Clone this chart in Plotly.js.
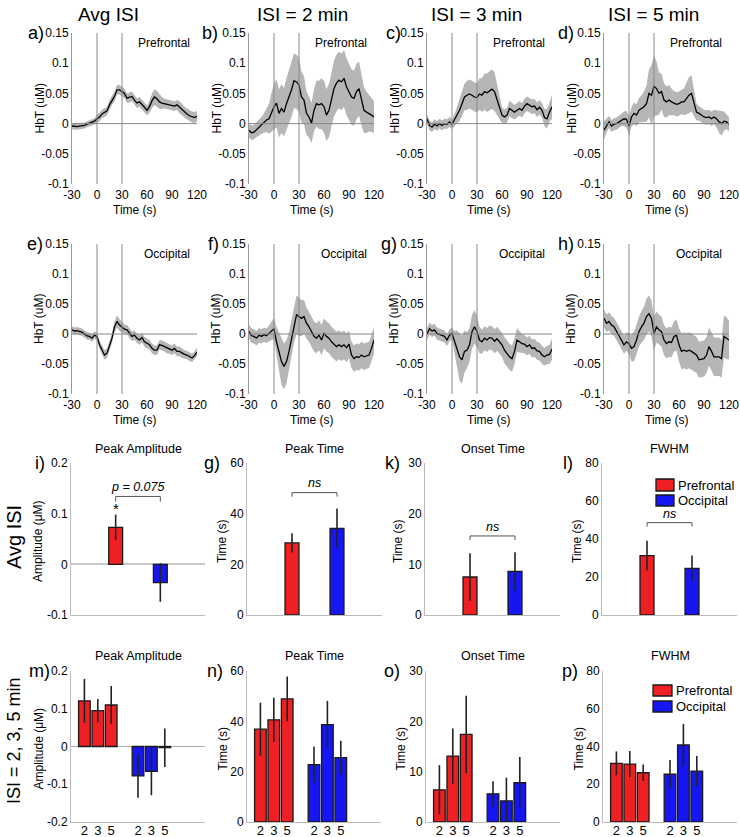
<!DOCTYPE html>
<html><head><meta charset="utf-8">
<script src="https://cdn.plot.ly/plotly-3.0.1.min.js"></script>
<style>html,body{margin:0;padding:0;background:#fff;}#chart{width:740px;height:837px;}</style>
</head><body><div id="chart"></div>
<script>
// ---------- DATA ----------
const time = [-30,-27,-24,-21,-18,-15,-12,-9,-6,-3,0,3,6,9,12,15,18,21,24,27,30,33,36,39,42,45,48,51,54,57,60,63,66,69,72,75,78,81,84,87,90,93,96,99,102,105,108,111,114,117,120];

const pfAvgMean = [-0.004,-0.005,-0.005,-0.004,-0.004,-0.003,-0.001,0.001,0.002,0.004, 0.008,0.011,0.016,0.018,0.021,0.031,0.039,0.045,0.056,0.056,0.053, 0.050,0.042,0.043,0.045,0.039,0.034,0.036,0.032,0.027,0.022, 0.028,0.038,0.044,0.041,0.036,0.034,0.033,0.032,0.031,0.030, 0.029,0.031,0.027,0.023,0.019,0.016,0.013,0.011,0.010,0.012];
const pfAvgSem = [0.005,0.005,0.005,0.005,0.005,0.005,0.005,0.005,0.005,0.005, 0.007,0.007,0.007,0.007,0.007,0.008,0.008,0.008,0.008,0.008,0.008, 0.008,0.008,0.008,0.008,0.008,0.008,0.008,0.008,0.008,0.008, 0.010,0.012,0.013,0.013,0.012,0.010,0.008,0.008,0.008,0.008, 0.008,0.008,0.010,0.010,0.009,0.009,0.009,0.009,0.009,0.009];

const pf2Mean = [-0.011,-0.015,-0.014,-0.010,-0.007,-0.003,0.001,0.006,0.008,0.019, 0.028,0.034,0.017,0.025,0.019,0.033,0.044,0.056,0.071,0.069,0.064, 0.044,0.039,0.017,0.011,0.001,0.022,0.033,0.031,0.033,0.028, 0.014,0.022,0.039,0.058,0.067,0.072,0.069,0.075,0.061,0.053, 0.044,0.042,0.053,0.058,0.039,0.022,0.019,0.017,0.014,0.011];
const pf2Sem = [0.012,0.012,0.012,0.012,0.013,0.014,0.016,0.020,0.025,0.032, 0.038,0.040,0.040,0.040,0.040,0.042,0.044,0.045,0.045,0.045,0.045, 0.042,0.040,0.036,0.034,0.033,0.035,0.038,0.040,0.042,0.043, 0.043,0.044,0.045,0.046,0.047,0.047,0.047,0.047,0.047,0.046, 0.046,0.046,0.046,0.045,0.042,0.038,0.034,0.030,0.028,0.026];

const pf3Mean = [0.008,-0.003,-0.006,-0.001,-0.004,0.000,-0.003,0.000,-0.001,0.003, -0.001,0.006,0.014,0.022,0.033,0.044,0.047,0.049,0.047,0.044,0.043, 0.049,0.047,0.053,0.051,0.054,0.057,0.053,0.039,0.025,0.014, 0.011,0.014,0.025,0.022,0.019,0.022,0.025,0.022,0.029,0.033, 0.031,0.028,0.029,0.023,0.027,0.022,0.010,0.008,0.019,0.028];
const pf3Sem = [0.008,0.008,0.008,0.008,0.008,0.008,0.008,0.008,0.008,0.008, 0.008,0.010,0.014,0.018,0.020,0.022,0.024,0.024,0.024,0.024,0.024, 0.026,0.028,0.030,0.032,0.033,0.033,0.032,0.025,0.018,0.013, 0.012,0.012,0.013,0.013,0.012,0.012,0.012,0.012,0.012,0.012, 0.012,0.012,0.012,0.012,0.012,0.012,0.014,0.016,0.016,0.020];

const pf5Mean = [-0.011,-0.003,0.003,-0.004,-0.001,0.000,0.003,0.006,0.008,0.007, -0.004,0.011,0.017,0.014,0.022,0.025,0.028,0.033,0.050,0.047,0.062, 0.058,0.050,0.053,0.039,0.036,0.039,0.036,0.034,0.032,0.033, 0.036,0.036,0.042,0.047,0.050,0.033,0.019,0.017,0.014,0.011, 0.010,0.011,0.008,0.011,0.008,0.003,0.000,0.004,0.003,-0.001];
const pf5Sem = [0.015,0.012,0.010,0.010,0.010,0.010,0.010,0.010,0.012,0.014, 0.016,0.016,0.018,0.018,0.020,0.022,0.025,0.030,0.040,0.050,0.050, 0.045,0.035,0.030,0.028,0.026,0.025,0.022,0.020,0.020,0.020, 0.020,0.022,0.026,0.030,0.030,0.020,0.014,0.012,0.012,0.012, 0.012,0.012,0.012,0.012,0.014,0.018,0.020,0.016,0.012,0.012];

const ocAvgMean = [0.007,0.005,0.0055,0.004,0.003,0.000,-0.003,-0.004,-0.007,-0.002, -0.004,-0.018,-0.027,-0.035,-0.032,-0.021,-0.007,0.012,0.021,0.015,0.011, 0.008,0.007,0.001,-0.004,-0.002,-0.007,-0.010,-0.006,-0.013,-0.016, -0.018,-0.024,-0.027,-0.027,-0.018,-0.019,-0.021,-0.024,-0.025,-0.027, -0.024,-0.029,-0.029,-0.032,-0.034,-0.035,-0.038,-0.040,-0.036,-0.030];
const ocAvgSem = [0.006,0.006,0.006,0.006,0.006,0.006,0.006,0.006,0.006,0.006, 0.006,0.007,0.008,0.008,0.008,0.008,0.008,0.009,0.010,0.010,0.009, 0.008,0.008,0.008,0.008,0.008,0.008,0.008,0.008,0.008,0.008, 0.008,0.008,0.008,0.008,0.008,0.008,0.008,0.008,0.008,0.008, 0.008,0.008,0.008,0.008,0.007,0.007,0.007,0.007,0.007,0.007];

const oc2Mean = [0.004,-0.003,-0.004,-0.007,-0.002,-0.004,-0.001,-0.003,0.001,0.005, 0.009,-0.013,-0.029,-0.046,-0.054,-0.046,-0.029,-0.007,0.015,0.032,0.029, 0.026,0.029,0.018,0.012,0.004,-0.004,-0.007,-0.002,-0.010,0.001, -0.004,-0.007,-0.013,-0.017,-0.021,-0.018,-0.021,-0.018,-0.023,-0.017, -0.035,-0.041,-0.038,-0.039,-0.035,-0.038,-0.036,-0.035,-0.024,-0.010];
const oc2Sem = [0.012,0.012,0.012,0.012,0.012,0.012,0.012,0.012,0.013,0.015, 0.018,0.025,0.032,0.038,0.038,0.036,0.032,0.030,0.030,0.032,0.032, 0.030,0.028,0.026,0.025,0.025,0.025,0.025,0.025,0.025,0.025, 0.025,0.025,0.025,0.025,0.025,0.024,0.024,0.024,0.024,0.023, 0.022,0.022,0.022,0.022,0.022,0.022,0.022,0.022,0.022,0.022];

const oc3Mean = [0.000,0.009,0.005,0.007,0.001,-0.001,-0.002,-0.004,-0.010,-0.002, 0.001,-0.013,-0.024,-0.038,-0.043,-0.029,-0.027,-0.018,0.004,0.012,0.004, -0.010,-0.013,-0.007,-0.010,-0.006,-0.007,-0.012,-0.008,-0.013,-0.018, -0.027,-0.032,-0.038,-0.041,-0.029,-0.010,-0.013,-0.016,-0.017,-0.021, -0.018,-0.024,-0.023,-0.028,-0.029,-0.035,-0.038,-0.035,-0.034,-0.025];
const oc3Sem = [0.010,0.010,0.010,0.010,0.010,0.010,0.010,0.010,0.010,0.010, 0.010,0.018,0.030,0.040,0.040,0.035,0.030,0.028,0.028,0.028,0.026, 0.022,0.020,0.020,0.020,0.020,0.020,0.020,0.020,0.020,0.020, 0.022,0.022,0.022,0.022,0.022,0.020,0.018,0.016,0.015,0.015, 0.015,0.015,0.015,0.015,0.015,0.015,0.015,0.015,0.016,0.018];

const oc5Mean = [0.026,0.018,0.021,0.015,0.012,0.004,-0.002,-0.010,-0.018,-0.013, -0.016,-0.024,-0.021,-0.010,0.004,0.012,0.018,0.029,0.034,0.026,0.001, 0.012,0.007,0.004,-0.010,-0.016,-0.013,-0.014,-0.004,-0.002,-0.018, -0.029,-0.027,-0.029,-0.027,-0.029,-0.032,-0.035,-0.043,-0.042,-0.041, -0.035,-0.021,-0.029,-0.038,-0.038,-0.038,-0.041,-0.004,-0.007,-0.010];
const oc5Sem = [0.015,0.015,0.015,0.015,0.015,0.015,0.015,0.015,0.015,0.015, 0.018,0.022,0.025,0.025,0.025,0.026,0.028,0.030,0.030,0.030,0.028, 0.026,0.025,0.025,0.025,0.025,0.025,0.025,0.025,0.026,0.028, 0.030,0.030,0.030,0.030,0.030,0.030,0.030,0.030,0.030,0.030, 0.030,0.032,0.032,0.032,0.032,0.032,0.032,0.035,0.035,0.032];

// Avg ISI bar data: [Prefrontal, Occipital]
const avgAmpMean = [0.073, -0.036],  avgAmpErr = [0.025, 0.038];
const avgPeakMean = [28.5, 34.2],    avgPeakErr = [3.8, 7.8];
const avgOnsetMean = [7.5, 8.6],     avgOnsetErr = [4.7, 3.8];
const avgFwhmMean = [31.3, 24.5],    avgFwhmErr = [7.8, 6.8];

// ISI = 2, 3, 5 min bar data
const isiLabels = ['2','3','5'];
const ampPF = [0.121, 0.095, 0.110],   ampPFErr = [0.058, 0.031, 0.050];
const ampOC = [-0.078, -0.066, -0.003], ampOCErr = [0.058, 0.063, 0.051];
const peakPF = [36.9, 40.6, 48.9],     peakPFErr = [10.5, 8.8, 8.9];
const peakOC = [22.8, 38.7, 25.6],     peakOCErr = [7.1, 9.4, 6.7];
const onsetPF = [6.4, 13.1, 17.4],     onsetPFErr = [4.9, 5.5, 7.7];
const onsetOC = [5.6, 4.2, 7.8],       onsetOCErr = [2.5, 4.6, 5.1];
const fwhmPF = [31.1, 30.7, 26.1],     fwhmPFErr = [6.3, 6.9, 4.3];
const fwhmOC = [25.3, 40.8, 27.0],     fwhmOCErr = [7.5, 11.1, 8.0];

const timeTicks = [-30, 0, 30, 60, 90, 120];
const hbtTicks = [-0.1, -0.05, 0, 0.05, 0.1, 0.15];
const colHeaders = ['Avg ISI','ISI = 2 min','ISI = 3 min','ISI = 5 min'];
const regions = ['Prefrontal','Occipital'];
const rowLabels = ['Avg ISI','ISI = 2, 3, 5 min'];
const barTitles = ['Peak Amplitude','Peak Time','Onset Time','FWHM'];
const barYTitles = ['Amplitude (\u03bcM)','Time (s)','Time (s)','Time (s)'];
const stimOn = 0, stimOff = 30;

// ---------- LAYOUT ----------
const W = 740, H = 837;
const FONT = 'Liberation Sans, Arial, sans-serif';
const RED = '#ee2024', BLUE = '#1616f2', EDGE = '#1a1a1a';
const fx = p => p / W, fy = p => 1 - p / H;
const txt = v => String(v);
const layout = {width:W, height:H, margin:{l:0,r:0,t:0,b:0}, paper_bgcolor:'#fff', plot_bgcolor:'rgba(0,0,0,0)',
  showlegend:false, barmode:'overlay', font:{family:FONT, size:12, color:'#000'}, annotations:[], shapes:[]};
const traces = [];
const ann = (text, x, y, o={}) => layout.annotations.push(Object.assign({text, x:fx(x), y:fy(y), xref:'paper', yref:'paper',
  showarrow:false, xanchor:'center', yanchor:'middle', font:{family:FONT, size:12, color:'#000'}}, o));
const ids = n => n === 1 ? ['xaxis','yaxis','x','y'] : ['xaxis'+n,'yaxis'+n,'x'+n,'y'+n];

// column headers
const headerX = [108, 302, 476, 653];
colHeaders.forEach((t,i) => ann(t, headerX[i], 15, {font:{family:FONT,size:19,color:'#000'}}));

// time-series panels
const tsCols = [[72,197],[249,374],[427,552],[604,729]];
const tsRows = [[33,184],[244,394]];
const tsSeries = [[pfAvgMean,pfAvgSem],[pf2Mean,pf2Sem],[pf3Mean,pf3Sem],[pf5Mean,pf5Sem],
                  [ocAvgMean,ocAvgSem],[oc2Mean,oc2Sem],[oc3Mean,oc3Sem],[oc5Mean,oc5Sem]];
const tsLetters = ['a)','b)','c)','d)','e)','f)','g)','h)'];
const tsLetterX = [36,210,393,566,35,213,389,566];
tsSeries.forEach((s,i) => {
  const n = i+1, r = Math.floor(i/4), c = i%4;
  const [x0,x1] = tsCols[c], [y0,y1] = tsRows[r];
  const [xa,ya,xr,yr] = ids(n);
  layout[xa] = {domain:[fx(x0),fx(x1)], anchor:yr, range:[-30,120], tickvals:timeTicks, ticktext:timeTicks.map(txt),
    ticks:'', showline:false, showgrid:false, zeroline:false, tickfont:{size:12,color:'#000'}, fixedrange:true, ticklabelstandoff:2};
  layout[ya] = {domain:[fy(y1),fy(y0)], anchor:xr, range:[-0.1,0.15], tickvals:hbtTicks, ticktext:hbtTicks.map(txt),
    ticks:'', showline:true, linecolor:'#999', linewidth:1, showgrid:false, zeroline:false, tickfont:{size:12,color:'#000'}, fixedrange:true};
  const up = s[0].map((v,k) => v + s[1][k]);
  const lo = s[0].map((v,k) => v - s[1][k]);
  traces.push({type:'scatter', mode:'lines', x:time.concat(time.slice().reverse()), y:up.concat(lo.slice().reverse()),
    xaxis:xr, yaxis:yr, fill:'toself', fillcolor:'rgb(182,182,182)', line:{width:0,color:'rgba(0,0,0,0)'}, hoverinfo:'skip'});
  traces.push({type:'scatter', mode:'lines', x:time, y:s[0], xaxis:xr, yaxis:yr, line:{color:'#000', width:1.3}});
  [stimOn, stimOff].forEach(v => layout.shapes.push({type:'line', xref:xr, yref:yr+' domain', x0:v, x1:v, y0:0, y1:1,
    line:{color:'#888', width:1}, layer:'above'}));
  layout.shapes.push({type:'line', xref:xr+' domain', yref:yr, x0:0, x1:1, y0:0, y1:0, line:{color:'#888', width:1}, layer:'above'});
  ann(regions[r], x1-5, y0+10, {xanchor:'right'});
  ann('HbT (uM)', x0-33, (y0+y1)/2, {textangle:-90, font:{family:FONT,size:12,color:'#000'}});
  ann('Time (s)', (x0+x1)/2, y1+26);
  ann(tsLetters[i], tsLetterX[i], y0, {font:{family:FONT,size:18,color:'#000'}});
});

// bar panels
const barCols3 = [[71,205],[247,382],[425,560],[602,737]];
const barCols4 = [[71,205],[247,381],[426,560],[603,737]];
const barRow3 = [463,615], barRow4 = [671,822];
const barLetters = ['i)','g)','k)','l)','m)','n)','o)','p)'];
const barLetterX = [40,212,392,568,39,215,392,570];
const barYTitleX = [38,222,398,577,38,222,400,578];
const avgBars = [[avgAmpMean,avgAmpErr],[avgPeakMean,avgPeakErr],[avgOnsetMean,avgOnsetErr],[avgFwhmMean,avgFwhmErr]];
const isiBars = [[ampPF,ampPFErr,ampOC,ampOCErr],[peakPF,peakPFErr,peakOC,peakOCErr],[onsetPF,onsetPFErr,onsetOC,onsetOCErr],[fwhmPF,fwhmPFErr,fwhmOC,fwhmOCErr]];
const yRanges3 = [[-0.1,0.2],[0,60],[0,30],[0,80]];
const yRanges4 = [[-0.2,0.2],[0,60],[0,30],[0,80]];
const yTicks3 = [[-0.1,0,0.1,0.2],[0,20,40,60],[0,10,20,30],[0,20,40,60,80]];
const yTicks4 = [[-0.2,-0.1,0,0.1,0.2],[0,20,40,60],[0,10,20,30],[0,20,40,60,80]];
const pfPos = [1,2,3], ocPos = [5,6,7];
const errStyle = arr => ({type:'data', array:arr, visible:true, color:'#222', thickness:1.6, width:0});

for (let row=0; row<2; row++) {
  for (let c=0; c<4; c++) {
    const n = 9 + row*4 + c;
    const [xa,ya,xr,yr] = ids(n);
    const [x0,x1] = row===0 ? barCols3[c] : barCols4[c];
    const [y0,y1] = row===0 ? barRow3 : barRow4;
    const rng = row===0 ? yRanges3[c] : yRanges4[c];
    const tv = row===0 ? yTicks3[c] : yTicks4[c];
    layout[xa] = {domain:[fx(x0),fx(x1)], anchor:yr, range: row===0 ? [0,3] : [0,10],
      showline:true, linecolor:'#bbb', linewidth:1, ticks:'', showgrid:false, zeroline:false, fixedrange:true,
      showticklabels: row===1, tickvals: row===1 ? pfPos.concat(ocPos) : [],
      ticktext: row===1 ? isiLabels.concat(isiLabels) : [], tickfont:{size:13,color:'#000'}, ticklabelstandoff:-4};
    layout[ya] = {domain:[fy(y1),fy(y0)], anchor:xr, range:rng, tickvals:tv, ticktext:tv.map(txt),
      showline:true, linecolor:'#bbb', linewidth:1, ticks:'', showgrid:false, fixedrange:true,
      zeroline: c===0, zerolinecolor: row===0 ? '#c8c8c8' : '#aaa', zerolinewidth: row===0 ? 2 : 1,
      tickfont:{size:12,color:'#000'}};
    if (row===0) {
      const [m,e] = avgBars[c];
      traces.push({type:'bar', x:[1], y:[m[0]], width:0.31, xaxis:xr, yaxis:yr, marker:{color:RED, line:{color:EDGE,width:1.3}}, error_y:errStyle([e[0]])});
      traces.push({type:'bar', x:[2], y:[m[1]], width:0.31, xaxis:xr, yaxis:yr, marker:{color:BLUE, line:{color:EDGE,width:1.3}}, error_y:errStyle([e[1]])});
    } else {
      const [pm,pe,om,oe] = isiBars[c];
      traces.push({type:'bar', x:pfPos, y:pm, width:0.87, xaxis:xr, yaxis:yr, marker:{color:RED, line:{color:EDGE,width:1.3}}, error_y:errStyle(pe)});
      traces.push({type:'bar', x:ocPos, y:om, width:0.87, xaxis:xr, yaxis:yr, marker:{color:BLUE, line:{color:EDGE,width:1.3}}, error_y:errStyle(oe)});
    }
    const titleY = row===0 ? 449 : 656;
    ann(barTitles[c], (x0+x1)/2, titleY, {font:{family:FONT,size:12.5,color:'#000'}});
    ann(barYTitles[c], barYTitleX[row*4+c], (y0+y1)/2 + 2, {textangle:-90, font:{family:FONT,size:12,color:'#000'}});
    ann(barLetters[row*4+c], barLetterX[row*4+c], y0, {font:{family:FONT,size:18,color:'#000'}});
  }
}

// significance brackets (row 3), data coordinates
const brackets = [
  {n:9,  top:0.134, tick:0.010, label:'p = 0.075', ly:0.152},
  {n:10, top:48.3,  tick:1.6,   label:'ns',        ly:52.3},
  {n:11, top:15.6,  tick:0.8,   label:'ns',        ly:17.3},
  {n:12, top:48.6,  tick:2.1,   label:'ns',        ly:53.2}
];
brackets.forEach(b => {
  const [,,xr,yr] = ids(b.n);
  layout.shapes.push({type:'path', xref:xr, yref:yr, path:`M 1,${b.top-b.tick} L 1,${b.top} L 2,${b.top} L 2,${b.top-b.tick}`,
    line:{color:'#555', width:1}});
  layout.annotations.push({text:`<i>${b.label}</i>`, x:1.5, y:b.ly, xref:xr, yref:yr, showarrow:false,
    xanchor:'center', yanchor:'middle', font:{family:FONT,size:12.5,color:'#000'}});
});
layout.annotations.push({text:'*', x:1, y:avgAmpMean[0]+avgAmpErr[0]+0.012, xref:'x9', yref:'y9', showarrow:false,
  xanchor:'center', yanchor:'middle', font:{family:FONT,size:15,color:'#000'}});

// row labels
ann(rowLabels[0], 14, 537, {textangle:-90, font:{family:FONT,size:20,color:'#000'}});
ann(rowLabels[1], 14, 741, {textangle:-90, font:{family:FONT,size:18,color:'#000'}});

// legends
[[656,674,479,491,485,500.5,495,506],[653,672,685,696,690.5,706,701,712]].forEach(g => {
  const [lx0,lx1,ry0,ry1,ty1,ty2,by0,by1] = g;
  layout.shapes.push({type:'rect', xref:'paper', yref:'paper', x0:fx(lx0), x1:fx(lx1), y0:fy(ry1), y1:fy(ry0), fillcolor:RED, line:{color:EDGE,width:1.3}});
  layout.shapes.push({type:'rect', xref:'paper', yref:'paper', x0:fx(lx0), x1:fx(lx1), y0:fy(by1), y1:fy(by0), fillcolor:BLUE, line:{color:EDGE,width:1.3}});
  ann(regions[0], lx1+2, ty1, {xanchor:'left', font:{family:FONT,size:13,color:'#000'}});
  ann(regions[1], lx1+2, ty2, {xanchor:'left', font:{family:FONT,size:13,color:'#000'}});
});

Plotly.newPlot('chart', traces, layout, {staticPlot:true, displayModeBar:false});
</script>
</body></html>
